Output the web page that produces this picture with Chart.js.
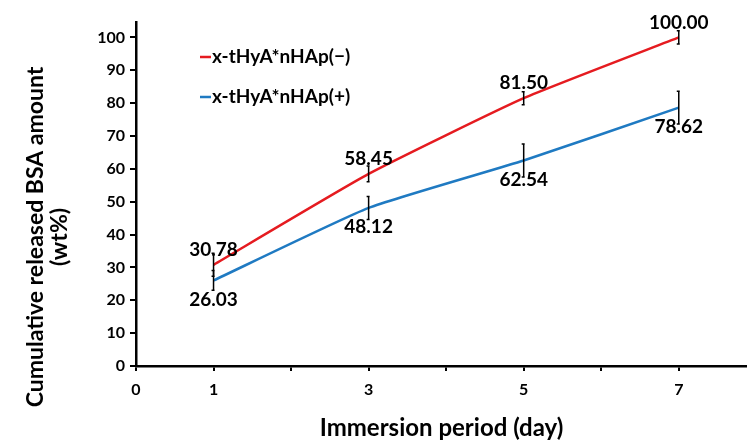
<!DOCTYPE html>
<html lang="en">
<head>
  <meta charset="UTF-8" />
  <title>Cumulative released BSA amount</title>
  <script src="https://cdn.jsdelivr.net/npm/chart.js"></script>
  <style>
    html, body { margin: 0; padding: 0; background: #fff; }
    #wrap { width: 747px; height: 444px; position: relative; }
  </style>
</head>
<body>
  <div id="wrap"><canvas id="chart"></canvas></div>

  <script>
    // data
    const days = [1, 3, 5, 7];
    const xTickLabels = [0, 1, 3, 5, 7];
    const seriesNames = ['x-tHyA*nHAp(\u2212)', 'x-tHyA*nHAp(+)'];
    const releaseMinus = [30.78, 58.45, 81.50, 100.00];
    const releasePlus = [26.03, 48.12, 62.54, 78.62];
    const errMinus = [3.5, 2.4, 2.0, 2.0];
    const errPlus = [3.0, 3.5, 5.0, 5.0];

    const RED = '#e51b20';
    const BLUE = '#1f7ac2';
    const FONT = 'Lato, "Open Sans", sans-serif';

    // error bars + value labels (red above, blue below)
    const markers = {
      id: 'markers',
      afterDatasetsDraw(chart) {
        const { ctx, scales: { x, y } } = chart;
        ctx.save();
        chart.data.datasets.forEach((ds, di) => {
          ds.data.forEach((p, i) => {
            const px = x.getPixelForValue(p.x);
            const e = ds.errors[i];
            const yt = y.getPixelForValue(p.y + e);
            const yb = y.getPixelForValue(p.y - e);
            ctx.strokeStyle = '#000';
            ctx.lineWidth = 1.5;
            ctx.beginPath();
            ctx.moveTo(px, yt); ctx.lineTo(px, yb);
            ctx.moveTo(px - 2, yt); ctx.lineTo(px + 1, yt);
            ctx.moveTo(px - 2, yb); ctx.lineTo(px + 1, yb);
            ctx.stroke();
          });
        });
        ctx.font = 'bold 19px ' + FONT;
        ctx.fillStyle = '#000';
        ctx.textAlign = 'center';
        ctx.textBaseline = 'middle';
        chart.data.datasets.forEach((ds, di) => {
          ds.data.forEach(p => {
            const px = x.getPixelForValue(p.x);
            const py = y.getPixelForValue(p.y);
            const off = di === 0 ? -15 : 19;
            ctx.fillText(p.y.toFixed(2), px, py + off);
          });
        });
        ctx.restore();
      }
    };

    // legend inside the plot, top-left
    const insideLegend = {
      id: 'insideLegend',
      afterDraw(chart) {
        const { ctx, chartArea } = chart;
        ctx.save();
        ctx.font = 'bold 19px ' + FONT;
        ctx.textBaseline = 'middle';
        ctx.textAlign = 'left';
        chart.data.datasets.forEach((ds, i) => {
          const lx = chartArea.left + 64;
          const ly = chartArea.top + 35 + i * 40;
          ctx.strokeStyle = ds.borderColor;
          ctx.lineWidth = 2.5;
          ctx.beginPath();
          ctx.moveTo(lx, ly); ctx.lineTo(lx + 11, ly);
          ctx.stroke();
          ctx.fillStyle = '#000';
          ctx.fillText(ds.label, lx + 12, ly);
        });
        ctx.restore();
      }
    };

    // y-axis title, two centred lines
    const yTitle = {
      id: 'yTitle',
      afterDraw(chart) {
        const { ctx } = chart;
        ctx.save();
        ctx.font = 'bold 23px ' + FONT;
        ctx.fillStyle = '#000';
        ctx.textAlign = 'center';
        ctx.textBaseline = 'middle';
        ctx.translate(36, 237);
        ctx.rotate(-Math.PI / 2);
        ctx.fillText('Cumulative released BSA amount', 0, 0);
        ctx.fillText('(wt%)', 0, 24);
        ctx.restore();
      }
    };

    const toPts = vals => vals.map((v, i) => ({ x: days[i], y: v }));

    new Chart(document.getElementById('chart'), {
      type: 'line',
      data: {
        datasets: [
          { label: seriesNames[0], data: toPts(releaseMinus), errors: errMinus,
            borderColor: RED, borderWidth: 2.5, pointRadius: 0, tension: 0.15 },
          { label: seriesNames[1], data: toPts(releasePlus), errors: errPlus,
            borderColor: BLUE, borderWidth: 2.5, pointRadius: 0, tension: 0.15 }
        ]
      },
      options: {
        responsive: true,
        maintainAspectRatio: false,
        animation: false,
        layout: { padding: { top: 22, right: 0, left: 0, bottom: 0 } },
        plugins: { legend: { display: false }, tooltip: { enabled: false } },
        scales: {
          x: {
            type: 'linear',
            min: 0, max: 7.88,
            afterFit: s => { s.height = 78; },
            border: { color: '#000', width: 2.5 },
            grid: { drawOnChartArea: false, drawTicks: true, tickLength: 5, color: '#000', lineWidth: 2 },
            ticks: {
              stepSize: 1, includeBounds: false, padding: 9,
              color: '#000', font: { family: FONT, size: 16, weight: 'bold' },
              callback: v => xTickLabels.includes(v) ? String(v) : ''
            },
            title: {
              display: true, text: 'Immersion period (day)', color: '#000',
              font: { family: FONT, size: 24, weight: 'bold' }, padding: { top: 0, bottom: 1 }
            }
          },
          y: {
            min: 0, max: 104.7,
            afterFit: s => { s.width = 136; },
            border: { color: '#000', width: 2.5 },
            grid: { drawOnChartArea: false, drawTicks: true, tickLength: 6, color: '#000', lineWidth: 2 },
            ticks: {
              stepSize: 10, includeBounds: false, padding: 5,
              color: '#000', font: { family: FONT, size: 16, weight: 'bold' }
            }
          }
        }
      },
      plugins: [markers, insideLegend, yTitle]
    });
  </script>
</body>
</html>
